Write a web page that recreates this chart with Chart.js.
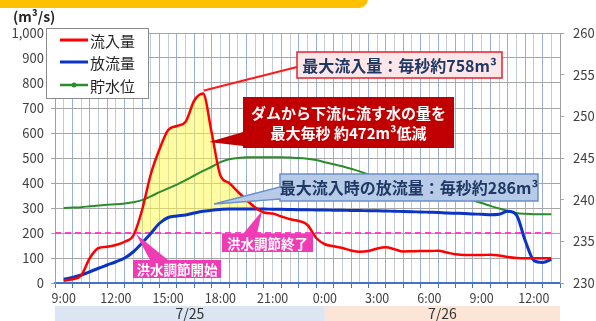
<!DOCTYPE html>
<html lang="ja">
<head>
<meta charset="utf-8">
<script src="https://cdn.jsdelivr.net/npm/chart.js@4.4.1/dist/chart.umd.min.js"></script>
<style>
  html, body { margin: 0; padding: 0; background: #fff; }
  canvas { display: block; }
</style>
</head>
<body>
<canvas id="damChart" width="596" height="321"></canvas>
<script>
// --- データ (7/25 0:00 からの経過時間) ---
const hours = [
  9, 9.5, 10, 10.5, 11, 11.5, 12, 12.5, 13, 13.5,
  14, 14.5, 15, 15.5, 16, 16.5, 17, 17.5, 18, 18.5,
  19, 19.5, 20, 20.5, 21, 21.5, 22, 22.5, 23, 23.5,
  24, 24.5, 25, 25.5, 26, 26.5, 27, 27.5, 28, 28.5,
  29, 29.5, 30, 30.5, 31, 31.5, 32, 32.5, 33, 33.5,
  34, 34.5, 35, 35.5, 36, 36.5, 37
];
// 流入量 (m3/s)
const inflow = [
  9, 15, 30, 100, 140, 145, 152, 165, 190, 292,
  435, 535, 612, 628, 645, 730, 758, 600, 430, 400,
  365, 332, 302, 282, 278, 266, 255, 248, 232, 180,
  155, 147, 140, 130, 125, 128, 138, 143, 135, 126,
  127, 128, 128, 129, 122, 115, 112, 112, 112, 113,
  110, 104, 100, 99, 99, 99, 99
];
// 放流量 (m3/s)
const outflow = [
  15, 22, 32, 45, 59, 72, 85, 100, 125, 160,
  198, 239, 262, 268, 272, 280, 287, 291, 294, 296,
  296, 296, 296, 296, 295, 295, 294, 293, 293, 292,
  292, 291, 291, 290, 290, 289, 289, 288, 287, 286,
  285, 284, 283, 282, 280, 279, 278, 276, 275, 273,
  275, 287, 272, 170, 90, 82, 95
];
// 貯水位 (m)
const reservoirLevel = [
  239.0, 239.05, 239.1, 239.2, 239.3, 239.4, 239.45, 239.55, 239.7, 239.95,
  240.4, 240.9, 241.35, 241.8, 242.35, 242.9, 243.45, 243.95, 244.5, 244.85,
  245.0, 245.1, 245.1, 245.1, 245.1, 245.1, 245.05, 245.0, 244.9, 244.75,
  244.5, 244.25, 244.0, 243.7, 243.4, 243.0, 242.7, 242.4, 242.1, 241.8,
  241.55, 241.3, 241.05, 240.85, 240.65, 240.4, 240.1, 239.9, 239.6, 239.25,
  238.95, 238.65, 238.4, 238.3, 238.25, 238.25, 238.25
];

const seriesNames = ['流入量', '放流量', '貯水位'];
const seriesColors = ['#ff0000', '#0b33c4', '#2a8c2a'];

const floodControlFlow = 200; // 洪水調節開始流量

const flowTicks = [0, 100, 200, 300, 400, 500, 600, 700, 800, 900, 1000];
const levelTicks = [230, 235, 240, 245, 250, 255, 260];
const timeTickHours = [9, 12, 15, 18, 21, 24, 27, 30, 33, 36];
const timeTickLabels = ['9:00', '12:00', '15:00', '18:00', '21:00', '0:00', '3:00', '6:00', '9:00', '12:00'];
const dateLabels = ['7/25', '7/26'];
const dateStartHours = [8.5, 24];
const dateEndHours = [24, 37.5];

const FONT = '"Noto Sans CJK JP", "Noto Sans", sans-serif';

// 黄色塗りの下端 (放流量と洪水調節流量の大きい方)
const fillBase = outflow.map(v => Math.max(v, floodControlFlow));

function toPoints(values) {
    return hours.map((h, i) => ({ x: h, y: values[i] }));
}

// 吹き出し (本体 + 三角形)
function drawCallout(ctx, box, pointer, fill, stroke, lineWidth) {
    const { x, y, w, h } = box;
    ctx.beginPath();
    ctx.moveTo(x, y);
    if (pointer && pointer.side === 'top') {
        ctx.lineTo(pointer.a, y);
        ctx.lineTo(pointer.tx, pointer.ty);
        ctx.lineTo(pointer.b, y);
    }
    ctx.lineTo(x + w, y);
    ctx.lineTo(x + w, y + h);
    ctx.lineTo(x, y + h);
    if (pointer && pointer.side === 'left') {
        ctx.lineTo(x, pointer.b);
        ctx.lineTo(pointer.tx, pointer.ty);
        ctx.lineTo(x, pointer.a);
    }
    ctx.closePath();
    ctx.fillStyle = fill;
    ctx.fill();
    if (stroke) {
        ctx.strokeStyle = stroke;
        ctx.lineWidth = lineWidth;
        ctx.stroke();
    }
}

function drawText(ctx, text, x, y, font, color) {
    ctx.font = font;
    ctx.fillStyle = color;
    ctx.textAlign = 'center';
    ctx.textBaseline = 'middle';
    ctx.fillText(text, x, y);
}

const notesPlugin = {
    id: 'damNotes',
    beforeDraw(chart) {
        const ctx = chart.ctx;
        ctx.save();
        // 上部のオレンジ帯
        ctx.fillStyle = '#ffc000';
        ctx.beginPath();
        ctx.roundRect(-12, -12, 380, 20, 9);
        ctx.fill();
        ctx.restore();
    },
    beforeDatasetsDraw(chart) {
        const { ctx, chartArea, scales } = chart;
        const y = scales.y.getPixelForValue(floodControlFlow);
        ctx.save();
        ctx.strokeStyle = '#ff3fcf';
        ctx.lineWidth = 2;
        ctx.setLineDash([6, 4]);
        ctx.beginPath();
        ctx.moveTo(chartArea.left, y);
        ctx.lineTo(scales.x.getPixelForValue(hours[hours.length - 1]), y);
        ctx.stroke();
        ctx.restore();
    },
    afterDatasetsDraw(chart) {
        const { ctx, scales } = chart;
        ctx.save();

        // 凡例
        ctx.fillStyle = '#fff';
        ctx.fillRect(46, 28, 102, 70);
        ctx.strokeStyle = '#8a8a8a';
        ctx.lineWidth = 1;
        ctx.strokeRect(46.5, 28.5, 102, 70);
        const rowY = [40, 62, 85];
        seriesNames.forEach((name, i) => {
            ctx.strokeStyle = seriesColors[i];
            ctx.lineWidth = i === 2 ? 2.5 : 3;
            ctx.beginPath();
            ctx.moveTo(60, rowY[i]);
            ctx.lineTo(88, rowY[i]);
            ctx.stroke();
            if (i === 2) {
                ctx.fillStyle = seriesColors[i];
                ctx.beginPath();
                ctx.arc(74, rowY[i], 2.5, 0, Math.PI * 2);
                ctx.fill();
            }
            ctx.font = '15px ' + FONT;
            ctx.fillStyle = '#262626';
            ctx.textAlign = 'left';
            ctx.textBaseline = 'middle';
            ctx.fillText(name, 90, rowY[i] + 1);
        });

        // 最大流入量
        const peak = Math.max(...inflow);
        const pi = inflow.indexOf(peak);
        const px = scales.x.getPixelForValue(hours[pi]);
        const py = scales.y.getPixelForValue(peak);
        ctx.strokeStyle = '#ff1a1a';
        ctx.lineWidth = 2;
        ctx.beginPath();
        ctx.moveTo(px + 1, py - 3);
        ctx.lineTo(297, 67);
        ctx.stroke();
        drawCallout(ctx, { x: 297, y: 52, w: 205, h: 26 }, null, '#fde6e8', '#e8202a', 1.5);
        drawText(ctx, '最大流入量：毎秒約758m³', 399.5, 65.5, 'bold 16px ' + FONT, '#1f3864');

        // 低減量
        drawCallout(ctx, { x: 243, y: 97, w: 211, h: 51 },
            { side: 'left', a: 132, b: 146, tx: 209, ty: 142 }, '#c00000');
        drawText(ctx, 'ダムから下流に流す水の量を', 348.5, 113, 'bold 15px ' + FONT, '#ffffff');
        drawText(ctx, '最大毎秒 約472m³低減', 348.5, 133, 'bold 15px ' + FONT, '#ffffff');

        // 最大流入時の放流量
        drawCallout(ctx, { x: 280, y: 174, w: 258, h: 27 },
            { side: 'left', a: 187, b: 199, tx: 214, ty: 204 }, '#b7cbe8', '#6a90c8', 1.5);
        drawText(ctx, '最大流入時の放流量：毎秒約286m³', 409, 188, 'bold 16px ' + FONT, '#1f3864');

        // 洪水調節開始 / 終了
        drawCallout(ctx, { x: 133, y: 260, w: 88, h: 18 },
            { side: 'top', a: 150, b: 168, tx: 136, ty: 234 }, '#f03cb4');
        drawText(ctx, '洪水調節開始', 177, 269.5, 'bold 13.5px ' + FONT, '#ffffff');
        drawCallout(ctx, { x: 222, y: 234, w: 91, h: 18 },
            { side: 'top', a: 243, b: 257, tx: 262, ty: 211 }, '#f03cb4');
        drawText(ctx, '洪水調節終了', 267.5, 243.5, 'bold 13.5px ' + FONT, '#ffffff');

        ctx.restore();
    },
    afterDraw(chart) {
        const { ctx, scales } = chart;
        ctx.save();
        // 単位
        ctx.font = 'bold 14px ' + FONT;
        ctx.fillStyle = '#262626';
        ctx.textAlign = 'left';
        ctx.textBaseline = 'middle';
        ctx.fillText('(m³/s)', 13, 17);

        // 日付帯
        const bandColors = ['#dce6f2', '#fce4d6'];
        dateLabels.forEach((label, i) => {
            const x0 = scales.x.getPixelForValue(dateStartHours[i]);
            const x1 = scales.x.getPixelForValue(dateEndHours[i]);
            ctx.fillStyle = bandColors[i];
            ctx.fillRect(x0, 306, x1 - x0, 15);
            drawText(ctx, label, (x0 + x1) / 2, 314, '14px ' + FONT, '#333333');
        });
        ctx.restore();
    }
};

new Chart(document.getElementById('damChart').getContext('2d'), {
    type: 'line',
    data: {
        datasets: [
            {
                label: seriesNames[0],
                data: toPoints(inflow),
                yAxisID: 'y',
                borderColor: seriesColors[0],
                borderWidth: 2.5,
                fill: { target: 3, above: 'rgba(255, 250, 70, 0.5)', below: 'rgba(0, 0, 0, 0)' },
                order: 1
            },
            {
                label: seriesNames[1],
                data: toPoints(outflow),
                yAxisID: 'y',
                borderColor: seriesColors[1],
                borderWidth: 3,
                fill: false,
                order: 2
            },
            {
                label: seriesNames[2],
                data: toPoints(reservoirLevel),
                yAxisID: 'y2',
                borderColor: seriesColors[2],
                borderWidth: 2,
                fill: false,
                order: 3
            },
            {
                label: 'fillBase',
                data: toPoints(fillBase),
                yAxisID: 'y',
                borderWidth: 0,
                borderColor: 'rgba(0, 0, 0, 0)',
                fill: false,
                order: 4
            }
        ]
    },
    options: {
        responsive: false,
        animation: false,
        layout: { padding: { top: 33, left: 0, right: 0, bottom: 0 } },
        elements: {
            point: { radius: 0 },
            line: { cubicInterpolationMode: 'monotone' }
        },
        plugins: {
            legend: { display: false },
            tooltip: { enabled: false },
            filler: { drawTime: 'beforeDatasetsDraw' }
        },
        scales: {
            x: {
                type: 'linear',
                min: 8.5,
                max: 37.5,
                afterFit: s => { s.height = 38; },
                ticks: {
                    stepSize: 0.5,
                    autoSkip: false,
                    maxRotation: 0,
                    padding: 3,
                    color: '#404040',
                    font: { family: FONT, size: 12.5 },
                    callback: v => {
                        const i = timeTickHours.indexOf(v);
                        return i >= 0 ? timeTickLabels[i] : '';
                    }
                },
                grid: {
                    color: c => (c.tick && c.tick.value % 1 !== 0) ? '#98afdc' : '#c6cbdc',
                    tickColor: c => (c.tick && c.tick.value % 1 !== 0) ? '#4472c4' : 'rgba(0,0,0,0)',
                    tickLength: 5,
                    lineWidth: 1
                },
                border: { color: '#4472c4', width: 2 }
            },
            y: {
                position: 'left',
                min: flowTicks[0],
                max: flowTicks[flowTicks.length - 1],
                afterFit: s => { s.width = 55; },
                ticks: {
                    stepSize: flowTicks[1] - flowTicks[0],
                    padding: 7,
                    color: '#404040',
                    font: { family: FONT, size: 13 },
                    callback: v => v.toLocaleString('en-US')
                },
                grid: { color: '#a6a6a6', tickLength: 4, tickColor: '#a6a6a6' },
                border: { color: '#a0a0a0' }
            },
            y2: {
                position: 'right',
                min: levelTicks[0],
                max: levelTicks[levelTicks.length - 1],
                afterFit: s => { s.width = 36; },
                ticks: {
                    stepSize: levelTicks[1] - levelTicks[0],
                    padding: 9,
                    color: '#404040',
                    font: { family: FONT, size: 13 }
                },
                grid: { drawOnChartArea: false, tickLength: 4, tickColor: '#a6a6a6' },
                border: { color: '#a0a0a0' }
            }
        }
    },
    plugins: [notesPlugin]
});
</script>
</body>
</html>
